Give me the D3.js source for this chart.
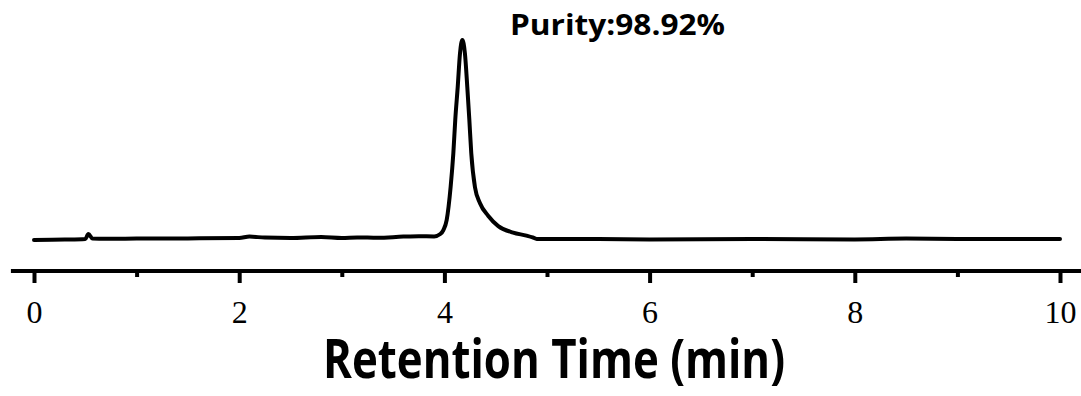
<!DOCTYPE html>
<html>
<head>
<meta charset="utf-8">
<script src="https://cdn.jsdelivr.net/npm/d3@7"></script>
<style>
  body { margin: 0; background: #fff; }
  svg { display: block; }
</style>
</head>
<body>
<svg id="chart" width="1081" height="396"></svg>
<script>
// chromatogram trace, retention time (min) vs detector signal (arbitrary units, peak = 100)
const times = [0, 0.3, 0.5, 0.53, 0.57, 0.7, 1.0, 1.5, 2.0, 2.1, 2.25, 2.5, 2.8, 3.0, 3.15, 3.35, 3.6, 3.75, 3.9,
  3.96, 3.99, 4.022, 4.061, 4.087, 4.106, 4.13, 4.152, 4.175, 4.2, 4.223, 4.243, 4.262, 4.298, 4.347, 4.428,
  4.525, 4.67, 4.8, 4.86, 4.9, 5.5, 6.0, 7.0, 8.0, 8.5, 9.0, 10.0];
const signal = [-0.5, -0.3, 0, 2.5, 0.2, 0.1, 0.2, 0.3, 0.5, 1.2, 0.7, 0.5, 1.0, 0.5, 0.8, 0.6, 1.2, 1.4, 1.3,
  2.5, 4.5, 9.5, 26.3, 43, 60, 76.5, 93.3, 100, 93.3, 76.5, 60, 43, 26, 18, 11.6,
  6.5, 3.2, 1.7, 0.8, 0, 0, -0.2, 0, -0.2, 0.2, 0, 0];
const majorTicks = [0, 2, 4, 6, 8, 10];
const minorTicks = [1, 3, 5, 7, 9];
const xTitle = "Retention Time (min)";
const purityText = "Purity:98.92%";

const svg = d3.select("#chart");

const x = d3.scaleLinear().domain([0, 10]).range([34, 1060]);
const y = d3.scaleLinear().domain([0, 100]).range([239, 40]);
const axisY = 271;

const line = d3.line()
  .x((d, i) => x(times[i]))
  .y(d => y(d))
  .curve(d3.curveMonotoneX);

svg.append("path")
  .attr("d", line(signal))
  .attr("fill", "none")
  .attr("stroke", "#000")
  .attr("stroke-width", 4)
  .attr("stroke-linejoin", "round")
  .attr("stroke-linecap", "round");

// axis line extends past the data range on both sides
const gx = svg.append("g").attr("transform", `translate(0,${axisY})`);
gx.append("line")
  .attr("x1", x(-0.225)).attr("x2", x(10.4))
  .attr("stroke", "#000").attr("stroke-width", 4);

gx.append("g")
  .call(d3.axisBottom(x).tickValues(minorTicks).tickSize(6).tickFormat(""))
  .call(g => g.select(".domain").remove())
  .call(g => g.selectAll(".tick line").attr("stroke-width", 4));

gx.append("g")
  .call(d3.axisBottom(x).tickValues(majorTicks).tickSize(12).tickFormat(d3.format("d")))
  .call(g => g.select(".domain").remove())
  .call(g => g.selectAll(".tick line").attr("stroke-width", 4))
  .call(g => g.selectAll(".tick text")
    .attr("y", 52).attr("dy", null)
    .attr("fill", "#000")
    .style("font-family", "'Liberation Serif', 'Times New Roman', serif")
    .style("font-size", "32px"));

svg.append("text")
  .attr("x", 554).attr("y", 378)
  .attr("text-anchor", "middle")
  .attr("textLength", 462)
  .attr("lengthAdjust", "spacingAndGlyphs")
  .style("font-family", "'Open Sans', sans-serif")
  .style("font-weight", "bold")
  .style("font-size", "53px")
  .text(xTitle);

svg.append("text")
  .attr("x", 617.5).attr("y", 35)
  .attr("text-anchor", "middle")
  .attr("textLength", 215)
  .attr("lengthAdjust", "spacingAndGlyphs")
  .style("font-family", "'Open Sans', sans-serif")
  .style("font-weight", "bold")
  .style("font-size", "28px")
  .text(purityText);
</script>
</body>
</html>
